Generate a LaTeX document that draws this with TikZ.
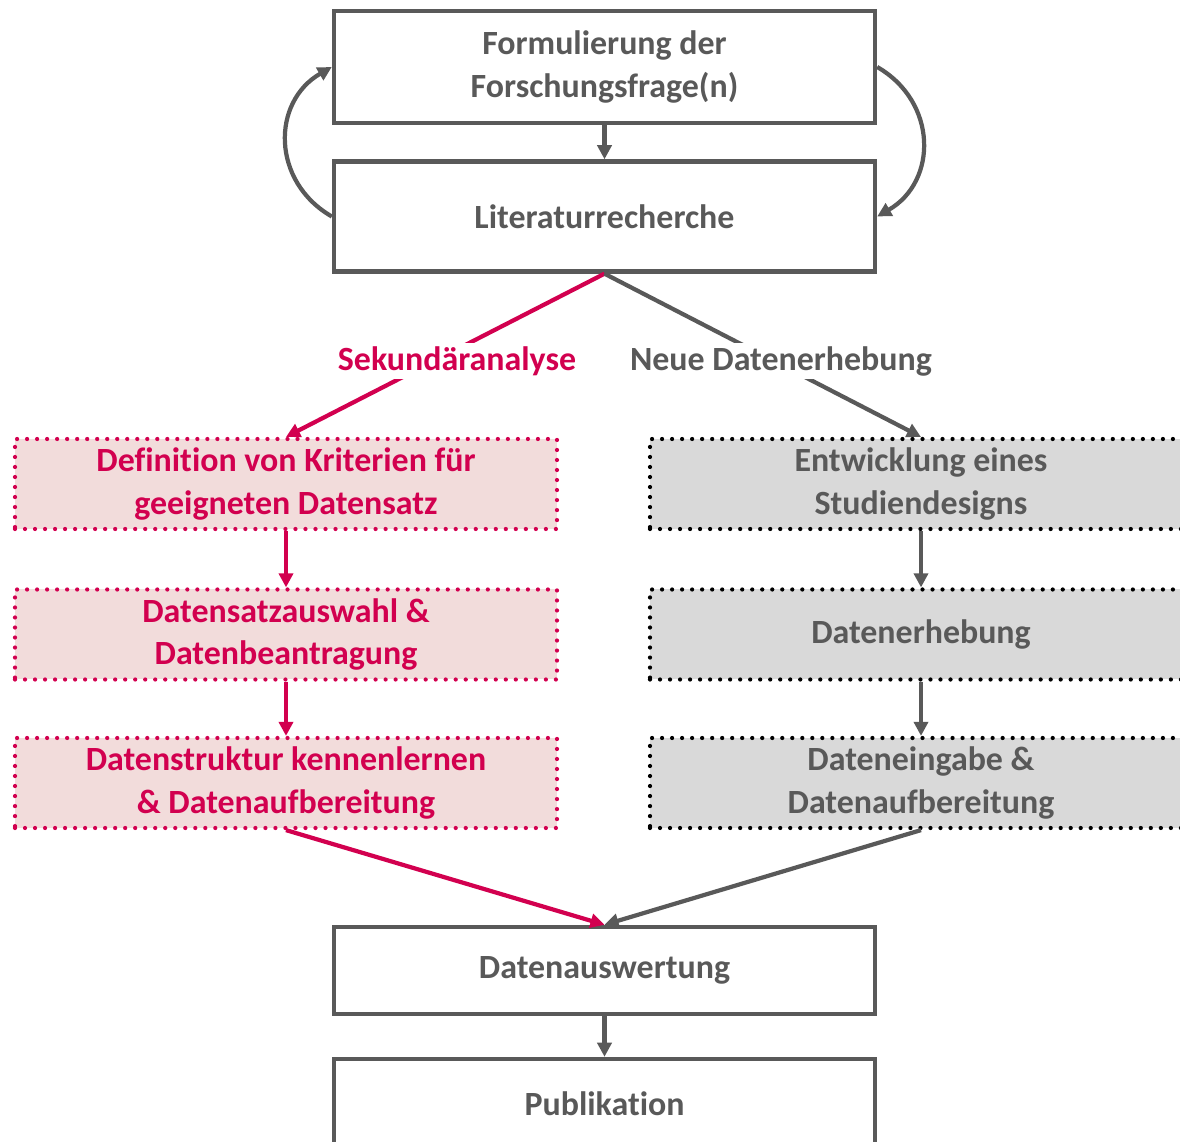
\documentclass[tikz,border=0pt]{standalone}
\usepackage{fontspec}
\setmainfont{Carlito}[Ligatures=NoCommon]
\usepackage{xcolor}
\usetikzlibrary{arrows.meta, positioning}
\definecolor{textgray}{HTML}{595959}
\definecolor{secred}{HTML}{D2004F}
\definecolor{secfill}{HTML}{F2DCDB}
\definecolor{newfill}{HTML}{D9D9D9}
\tikzset{
  main box/.style={
    draw=textgray,
    line width=2.5pt,
    fill=white,
    minimum width=10.82cm,
    minimum height=2.2cm,
    align=center,
    text=textgray,
    font=\fontsize{19.3}{24}\selectfont\bfseries
  },
  dot box/.style={
    line width=2.4pt,
    dash pattern=on 0pt off 5.7pt,
    line cap=round,
    minimum width=10.84cm,
    minimum height=1.8cm,
    align=center,
    font=\fontsize{19.3}{24}\selectfont\bfseries
  },
  sec box/.style={dot box, draw=secred, fill=secfill, text=secred},
  new box/.style={dot box, draw=black, fill=newfill, text=textgray},
  branch label/.style={fill=white, inner sep=2pt, font=\fontsize{19.3}{24}\selectfont\bfseries},
  gray arrow/.style={-{Triangle[length=8pt, width=8pt]}, line width=2.4pt, textgray},
  red arrow/.style={-{Triangle[length=8pt, width=8pt]}, line width=2.4pt, secred}
}

\begin{document}
\begin{tikzpicture}
  \useasboundingbox (0,0) rectangle (23.6,-22.84);
  \clip (0,0) rectangle (23.6,-22.84);

  % ====== MAIN STEPS ======
  \node[main box, minimum height=2.24cm] (question) at (12.09, -1.34) {Formulierung der\\Forschungsfrage(n)};
  \node[main box, minimum height=2.2cm] (lit) at (12.09, -4.33) {Literaturrecherche};

  % ====== SECONDARY ANALYSIS ======
  \node[sec box] (sec1) at (5.72, -9.68) {Definition von Kriterien für\\geeigneten Datensatz};
  \node[sec box] (sec2) at (5.72, -12.69) {Datensatzauswahl \&\\Datenbeantragung};
  \node[sec box] (sec3) at (5.72, -15.66) {Datenstruktur kennenlernen\\\& Datenaufbereitung};

  % ====== NEW DATA COLLECTION ======
  \node[new box] (new1) at (18.42, -9.68) {Entwicklung eines\\Studiendesigns};
  \node[new box] (new2) at (18.42, -12.69) {Datenerhebung};
  \node[new box] (new3) at (18.42, -15.66) {Dateneingabe \&\\Datenaufbereitung};

  % ====== FINAL STEPS ======
  \node[main box, minimum height=1.74cm] (eval) at (12.09, -19.41) {Datenauswertung};
  \node[main box, minimum height=1.8cm] (pub) at (12.09, -22.08) {Publikation};

  % ====== CONNECTORS ======
  \draw[gray arrow] (question.south) -- (lit.north);
  \draw[gray arrow] (lit.west) to[bend left=60, looseness=1.2] (question.west);
  \draw[gray arrow] (question.east) to[bend left=60, looseness=1.2] (lit.east);

  \draw[red arrow] (lit.south) -- (sec1.north);
  \draw[gray arrow] (lit.south) -- (new1.north);

  \draw[red arrow] (sec1.south) -- (sec2.north);
  \draw[red arrow] (sec2.south) -- (sec3.north);
  \draw[gray arrow] (new1.south) -- (new2.north);
  \draw[gray arrow] (new2.south) -- (new3.north);

  \draw[red arrow] (sec3.south) -- (eval.north);
  \draw[gray arrow] (new3.south) -- (eval.north);
  \draw[gray arrow] (eval.south) -- (pub.north);

  % ====== BRANCH LABELS ======
  \node[branch label, text=secred] (seclabel) at (9.14, -7.22) {Sekundäranalyse};
  \node[branch label, text=textgray] (newlabel) at (15.62, -7.22) {Neue Datenerhebung};

\end{tikzpicture}
\end{document}
